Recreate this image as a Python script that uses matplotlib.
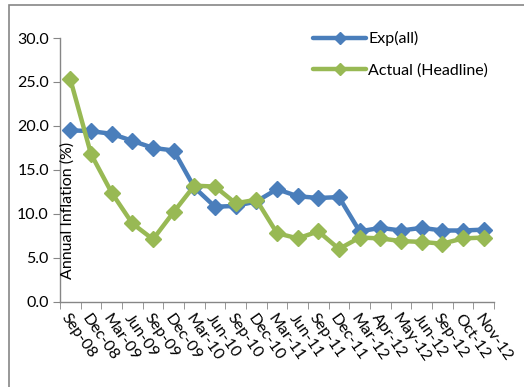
import matplotlib
matplotlib.use("Agg")
import matplotlib.pyplot as plt
from matplotlib.patches import Rectangle
import numpy as np

categories = ["Sep-08", "Dec-08", "Mar-09", "Jun-09", "Sep-09", "Dec-09", "Mar-10",
              "Jun-10", "Sep-10", "Dec-10", "Mar-11", "Jun-11", "Sep-11", "Dec-11",
              "Mar-12", "Apr-12", "May-12", "Jun-12", "Sep-12", "Oct-12", "Nov-12"]
exp_all = [19.5, 19.4, 19.1, 18.3, 17.5, 17.2, 13.0, 10.8, 10.9, 11.4, 12.8, 12.0,
           11.8, 11.9, 8.0, 8.4, 8.1, 8.4, 8.1, 8.1, 8.2]
actual = [25.3, 16.8, 12.4, 8.9, 7.1, 10.2, 13.2, 13.1, 11.2, 11.6, 7.8, 7.2,
          8.0, 6.0, 7.3, 7.2, 6.9, 6.8, 6.6, 7.2, 7.3]
yticks = [0, 5, 10, 15, 20, 25, 30]

plt.rcParams['font.family'] = ['Lato', 'DejaVu Sans']
FS = 11.5

W, H = 524, 387
fig = plt.figure(figsize=(W / 100, H / 100), dpi=100)
ax = fig.add_axes([60 / W, 1 - 301.7 / H, (494 - 60) / W, (301.7 - 38) / H])

x = np.arange(len(categories))
blue = "#4A7EBB"
green = "#98B954"
ax.plot(x, exp_all, color=blue, lw=3.2, marker="D", ms=8.5, label="Exp(all)",
        solid_joinstyle="round", solid_capstyle="round")
ax.plot(x, actual, color=green, lw=3.2, marker="D", ms=8.5, label="Actual (Headline)",
        solid_joinstyle="round", solid_capstyle="round")

ax.set_xlim(-0.5, len(categories) - 0.5)
ax.set_ylim(0, 30)
ax.set_yticks(yticks)
ax.set_yticklabels([f"{v:.1f}" for v in yticks], fontsize=FS)
ax.set_xticks(x)
ax.set_xticklabels(categories, rotation=-55, ha="left", va="top",
                   rotation_mode="anchor", fontsize=FS)
ax.set_xticks(np.arange(-0.5, len(categories), 1.0), minor=True)
ax.tick_params(axis="x", which="major", length=0, pad=7)
ax.tick_params(axis="x", which="minor", length=5, color="#868686", direction="out")
ax.tick_params(axis="y", length=5, color="#868686", direction="out", pad=3)

for s in ["top", "right"]:
    ax.spines[s].set_visible(False)
for s in ["left", "bottom"]:
    ax.spines[s].set_color("#868686")
    ax.spines[s].set_linewidth(1.0)

fig.text(68 / W, 1 - 210 / H, "Annual Inflation (%)", rotation=90,
         ha="center", va="center", fontsize=FS)

leg = ax.legend(loc="upper left", bbox_to_anchor=(299 / W, 1 - 17 / H),
                bbox_transform=fig.transFigure, frameon=False, fontsize=FS,
                handlelength=3.3, labelspacing=1.05, handletextpad=0.15,
                markerscale=0.75)

fig.patches.append(Rectangle((9 / W, -0.1), 1.2, 1 - 5 / H + 0.1,
                             transform=fig.transFigure, fill=False,
                             edgecolor="#868686", lw=1.2))

fig.savefig("out.png", dpi=100)
